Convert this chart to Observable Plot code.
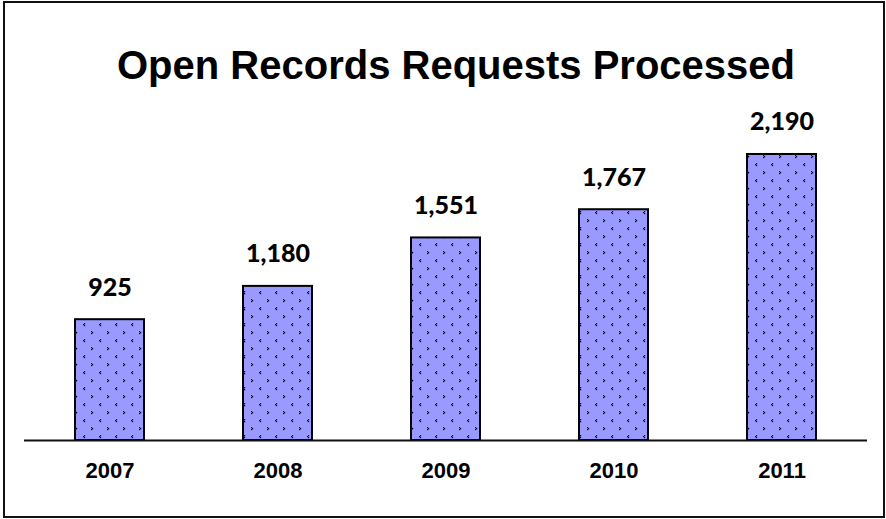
<!DOCTYPE html>
<html>
<head>
<meta charset="utf-8">
<script src="https://cdn.jsdelivr.net/npm/d3@7"></script>
<script src="https://cdn.jsdelivr.net/npm/@observablehq/plot@0.6"></script>
<style>
  html, body { margin: 0; padding: 0; background: #fff; }
  #wrap { position: relative; width: 886px; height: 519px; overflow: hidden; }
  #border { position: absolute; left: 3px; top: 1px; width: 878px; height: 513px; border: 2px solid #111; pointer-events: none; }
</style>
</head>
<body>
<div id="wrap"><div id="border"></div></div>
<script>
const title = "Open Records Requests Processed";
const years = ["2007", "2008", "2009", "2010", "2011"];
const values = [925, 1180, 1551, 1767, 2190];

const data = years.map((y, i) => ({year: y, value: values[i]}));
const fmt = d3.format(",");

const chart = Plot.plot({
  width: 886,
  height: 519,
  marginLeft: 24,
  marginRight: 19,
  marginTop: 113.5,
  marginBottom: 79,
  style: {background: "transparent"},
  x: {domain: years, paddingInner: 0.588, paddingOuter: 0.294, axis: null},
  y: {domain: [0, 2500], axis: null},
  marks: [
    Plot.barY(data, {x: "year", y: "value", fill: "url(#dots)", stroke: "#000", strokeWidth: 2}),
    Plot.ruleY([0], {stroke: "#111", strokeWidth: 2}),
    Plot.text(data, {x: "year", y: "value", text: d => fmt(d.value), dy: -32,
      fontFamily: "Lato", fontWeight: "900", fontSize: 25, fill: "#000"}),
    Plot.text(data, {x: "year", text: "year", frameAnchor: "bottom", dy: 37,
      fontFamily: "Liberation Sans", fontWeight: "bold", fontSize: 22, fill: "#000"}),
    Plot.text([title], {frameAnchor: "top", text: d => d, dx: 10, dy: -63.3,
      fontFamily: "Liberation Sans", fontWeight: "bold", fontSize: 40, fill: "#000"})
  ]
});

// Add dotted fill pattern
const ns = "http://www.w3.org/2000/svg";
const defs = document.createElementNS(ns, "defs");
const pat = document.createElementNS(ns, "pattern");
pat.setAttribute("id", "dots");
pat.setAttribute("patternUnits", "userSpaceOnUse");
pat.setAttribute("width", 16);
pat.setAttribute("height", 16);
const bg = document.createElementNS(ns, "rect");
bg.setAttribute("width", 16); bg.setAttribute("height", 16); bg.setAttribute("fill", "#9999ff");
pat.appendChild(bg);
const px = [[4,3],[3,4],[4,5],[11,11],[12,12],[11,13]];
for (const [x, y] of px) {
  const r = document.createElementNS(ns, "rect");
  r.setAttribute("x", x); r.setAttribute("y", y);
  r.setAttribute("width", 1.2); r.setAttribute("height", 1.2);
  r.setAttribute("fill", "#000");
  pat.appendChild(r);
}
defs.appendChild(pat);
chart.insertBefore(defs, chart.firstChild);

document.getElementById("wrap").insertBefore(chart, document.getElementById("border"));
</script>
</body>
</html>
